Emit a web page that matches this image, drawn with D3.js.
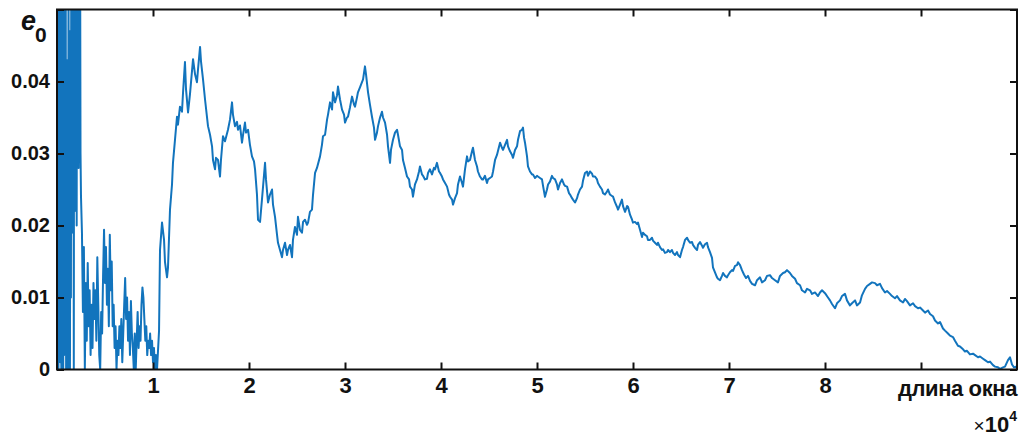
<!DOCTYPE html>
<html>
<head>
<meta charset="utf-8">
<script src="https://cdnjs.cloudflare.com/ajax/libs/d3/7.8.5/d3.min.js"></script>
<style>
  body { margin: 0; background: #fff; }
  text { font-family: "Liberation Sans", Arial, sans-serif; font-weight: bold; fill: #111; }
</style>
</head>
<body>
<script>
// window length (samples) vs e0
// burst at the start: the line jumps between 0 and far above the axis
var burstPts = [
  [0,0.07],[50,0.002],[100,0.08],[150,0],[200,0.065],[250,0.004],[300,0.09],[350,0.001],
  [400,0.075],[450,0],[500,0.06],[550,0.003],[600,0.085],[650,0],[700,0.07],[750,0.002],
  [800,0.08],[850,0.006],[900,0.065],[950,0],[1000,0.043],[1050,0.012],[1100,0.038],[1150,0],
  [1200,0.055],[1250,0.008],[1300,0.03],[1350,0],[1400,0.047],[1450,0.01],[1500,0.08],[1550,0.025],
  [1600,0.09],[1650,0.019],[1700,0.07],[1750,0],[1800,0.085],[1850,0.022],[1900,0.075],[1950,0.03],
  [2000,0.09],[2050,0.02],[2100,0.08],[2150,0.035],[2200,0.07],[2250,0.028],[2300,0.06],[2350,0.038],
  [2400,0.065],[2450,0.03]
];

// noisy low part up to ~1.04e4
var noisePts = [
  [2500,0.024],[2600,0.019],[2700,0.008],[2800,0.017],[2900,0],[3000,0.012],[3100,0.004],[3200,0.0148],
  [3300,0.006],[3400,0.011],[3500,0.002],[3600,0.009],[3700,0.003],[3800,0.012],[3900,0.007],[4000,0.011],
  [4100,0.004],[4200,0.0156],[4300,0.009],[4400,0.002],[4500,0],[4600,0.008],[4700,0.005],[4800,0.013],
  [4900,0.0194],[5000,0.012],[5100,0.017],[5200,0.009],[5300,0.014],[5400,0.006],[5500,0.0187],[5600,0.011],
  [5700,0.015],[5800,0.006],[5900,0.009],[6000,0.003],[6100,0.006],[6200,0],[6300,0.004],[6400,0.002],
  [6500,0.006],[6600,0.003],[6700,0.007],[6800,0.001],[6900,0.005],[7000,0.009],[7100,0.0127],[7200,0.007],
  [7300,0.01],[7400,0.004],[7500,0.008],[7600,0.002],[7700,0.0095],[7800,0.005],[7900,0.003],[8000,0],
  [8100,0.005],[8200,0],[8300,0.004],[8400,0.008],[8500,0.003],[8600,0.006],[8700,0.004],[8800,0.009],
  [8900,0.0114],[9000,0.01],[9100,0.007],[9200,0.004],[9300,0.006],[9400,0.002],[9500,0.004],[9600,0.003],
  [9700,0.005],[9800,0.002],[9900,0.004],[10000,0.001],[10100,0.003],[10200,0],[10300,0.002]
];

// main curve after the jump at ~1.05e4
var trendPts = [
  [10420,0],[10630,0.0054],[10730,0.0166],[10940,0.0204],[11150,0.018],[11250,0.0149],[11460,0.0128],[11560,0.0141],
  [11770,0.0222],[11980,0.0257],[12080,0.0287],[12290,0.0319],[12500,0.0351],[12600,0.034],[12810,0.0365],[13020,0.0358],
  [13130,0.0385],[13330,0.0427],[13440,0.0389],[13650,0.0357],[13850,0.0382],[14170,0.0431],[14380,0.041],[14580,0.0399],
  [14690,0.0417],[14900,0.0448],[15000,0.0428],[15210,0.0403],[15420,0.0375],[15730,0.0338],[15940,0.0326],[16150,0.031],
  [16250,0.0291],[16460,0.0278],[16560,0.0294],[16770,0.0291],[16980,0.0268],[17080,0.0291],[17290,0.0324],[17500,0.0317],
  [17810,0.0333],[18020,0.0347],[18230,0.0371],[18330,0.0354],[18540,0.0338],[18750,0.0344],[18850,0.0333],[19060,0.0339],
  [19270,0.0315],[19380,0.0326],[19580,0.0343],[19690,0.0329],[19900,0.0333],[20100,0.0312],[20310,0.0296],[20520,0.0289],
  [20630,0.0278],[20830,0.0243],[20940,0.0208],[21150,0.0205],[21350,0.0236],[21670,0.0287],[21770,0.0264],[21980,0.0232],
  [22190,0.0243],[22400,0.025],[22500,0.0229],[22710,0.0212],[22920,0.0187],[23020,0.0176],[23230,0.0166],[23440,0.0156],
  [23540,0.0166],[23750,0.0176],[23960,0.0159],[24060,0.0166],[24270,0.0173],[24480,0.0156],[24580,0.018],[24790,0.0198],
  [25000,0.0187],[25100,0.0212],[25310,0.0194],[25520,0.019],[25630,0.0205],[25830,0.0208],[26040,0.0201],[26150,0.0204],
  [26350,0.0219],[26560,0.0222],[26670,0.0243],[26880,0.0273],[27080,0.028],[27400,0.0296],[27600,0.0312],[27710,0.0324],
  [27920,0.0326],[28130,0.0347],[28230,0.0354],[28440,0.0371],[28650,0.0361],[28750,0.0385],[28960,0.0371],[29170,0.0381],
  [29270,0.0393],[29480,0.0375],[29690,0.0361],[29900,0.0354],[30000,0.0343],[30210,0.035],[30310,0.0351],[30520,0.0364],
  [30730,0.0379],[30940,0.0368],[31040,0.0365],[31250,0.0378],[31350,0.0385],[31560,0.0392],[31770,0.0399],[31880,0.0403],
  [32080,0.0421],[32190,0.041],[32400,0.0385],[32600,0.0368],[32810,0.0351],[33020,0.0336],[33130,0.0319],[33330,0.0329],
  [33440,0.0338],[33650,0.035],[33850,0.0358],[33960,0.035],[34170,0.0343],[34380,0.0326],[34480,0.031],[34690,0.0287],
  [34790,0.0305],[35000,0.0319],[35210,0.0329],[35420,0.0333],[35520,0.0326],[35730,0.031],[35940,0.0305],[36040,0.0291],
  [36250,0.028],[36460,0.0268],[36670,0.0264],[36770,0.0254],[36980,0.025],[37080,0.024],[37290,0.0257],[37500,0.0264],
  [37710,0.0275],[37810,0.0282],[38020,0.0271],[38130,0.0269],[38330,0.0264],[38540,0.0265],[38650,0.0273],[38850,0.0278],
  [39060,0.0271],[39270,0.028],[39380,0.0278],[39580,0.0287],[39790,0.0275],[39900,0.0273],[40100,0.0268],[40210,0.0264],
  [40420,0.0259],[40630,0.0254],[40830,0.0243],[40940,0.024],[41150,0.0236],[41250,0.0229],[41460,0.0238],[41670,0.0245],
  [41770,0.0257],[41980,0.0268],[42190,0.0259],[42290,0.0254],[42500,0.0278],[42710,0.0296],[42810,0.0289],[43020,0.0291],
  [43230,0.0303],[43330,0.0308],[43540,0.0291],[43750,0.0282],[43850,0.0275],[44060,0.0268],[44270,0.0264],[44380,0.0264],
  [44580,0.0269],[44790,0.0259],[44900,0.0264],[45100,0.0266],[45310,0.0268],[45420,0.0275],[45630,0.0291],[45830,0.0298],
  [46150,0.0315],[46350,0.0308],[46460,0.0305],[46670,0.0312],[46880,0.0319],[46980,0.031],[47190,0.0303],[47400,0.0298],
  [47500,0.0294],[47710,0.0305],[47920,0.031],[48020,0.0319],[48230,0.0331],[48440,0.0333],[48540,0.0336],[48650,0.0322],
  [48750,0.0315],[48960,0.0296],[49060,0.0282],[49270,0.0275],[49480,0.0271],[49580,0.0271],[49790,0.0266],[50000,0.0269],
  [50100,0.0268],[50310,0.0266],[50520,0.0264],[50630,0.0255],[50830,0.024],[51040,0.025],[51150,0.0257],[51350,0.0261],
  [51560,0.0269],[51670,0.0266],[51880,0.0264],[52080,0.0257],[52190,0.025],[52400,0.0259],[52600,0.0264],[52810,0.0257],
  [52920,0.0255],[53130,0.0254],[53330,0.0245],[53440,0.0243],[53650,0.0238],[53750,0.0236],[53960,0.0232],[54170,0.0238],
  [54270,0.0243],[54480,0.025],[54690,0.0254],[54790,0.0262],[55000,0.0273],[55210,0.0275],[55310,0.0269],[55520,0.0275],
  [55730,0.0272],[55830,0.0268],[56040,0.0268],[56250,0.0264],[56350,0.0259],[56560,0.0254],[56770,0.025],[56880,0.0245],
  [57080,0.0243],[57290,0.0247],[57400,0.025],[57600,0.0243],[57810,0.0241],[57920,0.024],[58130,0.0232],[58330,0.0226],
  [58440,0.0222],[58650,0.0229],[58850,0.0236],[58960,0.0227],[59170,0.0219],[59380,0.0227],[59480,0.0226],[59690,0.0215],
  [59900,0.0208],[60000,0.0204],[60210,0.0205],[60420,0.0202],[60520,0.0204],[60730,0.0194],[60940,0.0184],[61040,0.019],
  [61250,0.0187],[61460,0.0185],[61560,0.018],[61770,0.018],[61980,0.0183],[62080,0.0179],[62290,0.0176],[62500,0.0173],
  [62600,0.0176],[62810,0.017],[63020,0.0166],[63130,0.0167],[63330,0.0162],[63540,0.0163],[63650,0.0166],[63850,0.0163],
  [64060,0.0166],[64170,0.0162],[64380,0.0159],[64580,0.0163],[64690,0.0159],[64900,0.0156],[65100,0.0166],[65210,0.017],
  [65420,0.018],[65630,0.0183],[65730,0.018],[65940,0.0176],[66150,0.0177],[66250,0.0173],[66460,0.0169],[66670,0.0166],
  [66770,0.0173],[66980,0.0177],[67190,0.0172],[67290,0.0169],[67500,0.0174],[67710,0.0176],[67810,0.017],[68020,0.0163],
  [68230,0.0155],[68330,0.0142],[68540,0.0135],[68750,0.0128],[68850,0.0126],[69060,0.0124],[69270,0.013],[69380,0.0134],
  [69580,0.013],[69790,0.0128],[69900,0.0131],[70100,0.0135],[70310,0.0138],[70420,0.0137],[70630,0.0144],[70830,0.0145],
  [70940,0.0149],[71150,0.0145],[71350,0.0138],[71560,0.0132],[71770,0.0127],[71980,0.013],[72190,0.0123],[72400,0.0119],
  [72710,0.0117],[72920,0.0124],[73230,0.0128],[73440,0.0121],[73750,0.0124],[73960,0.013],[74270,0.0131],[74480,0.0127],
  [74790,0.0124],[75100,0.0121],[75310,0.013],[75630,0.0134],[75830,0.0135],[76040,0.0138],[76350,0.0134],[76560,0.013],
  [76880,0.0126],[77080,0.012],[77400,0.0117],[77600,0.011],[77920,0.0107],[78130,0.0112],[78440,0.011],[78650,0.0105],
  [78960,0.0107],[79270,0.0102],[79480,0.0107],[79690,0.011],[80000,0.0106],[80310,0.01],[80520,0.0096],[80730,0.0091],
  [81040,0.0085],[81250,0.0092],[81560,0.0096],[81770,0.0102],[82080,0.0105],[82290,0.0096],[82600,0.0089],[82810,0.0092],
  [83130,0.0096],[83330,0.0089],[83650,0.0093],[83850,0.0103],[84170,0.0112],[84380,0.0116],[84690,0.0119],[84900,0.0121],
  [85210,0.012],[85420,0.0117],[85730,0.0119],[85940,0.0113],[86250,0.0107],[86460,0.0109],[86770,0.0105],[86980,0.0102],
  [87290,0.0099],[87500,0.0102],[87810,0.0096],[88130,0.0093],[88330,0.0098],[88540,0.0095],[88850,0.0089],[89170,0.0092],
  [89380,0.0088],[89690,0.0085],[89900,0.0086],[90210,0.0082],[90420,0.0079],[90730,0.0082],[90940,0.0077],[91250,0.0074],
  [91460,0.0068],[91770,0.0064],[91980,0.0066],[92290,0.0057],[92500,0.0054],[92810,0.005],[93020,0.0047],[93330,0.0045],
  [93540,0.004],[93850,0.0033],[94060,0.0032],[94380,0.0028],[94580,0.0025],[94790,0.0026],[95100,0.0021],[95420,0.0022],
  [95630,0.002],[95940,0.0017],[96150,0.0018],[96460,0.0015],[96670,0.0013],[96980,0.001],[97190,0.0011],[97500,0.0006],
  [97710,0.0004],[98020,0.0003],[98230,0.0001],[98540,0.0003],[98750,0.0004],[99060,0.0013],[99270,0.0017],[99480,0.0007],
  [99690,0.0003],[99900,0.0004],[100000,0.0001]
];

var xTicks = [10000, 20000, 30000, 40000, 50000, 60000, 70000, 80000, 90000];
var xTickLabels = ["1", "2", "3", "4", "5", "6", "7", "8", ""];
var yTicks = [0, 0.01, 0.02, 0.03, 0.04, 0.05];
var yTickLabels = ["0", "0.01", "0.02", "0.03", "0.04", ""];

var w = 1023, h = 436;
var padL = 57, padR = 1017, padT = 9.5, padB = 369.5;   // box edges in pixels

var svg = d3.select("body").append("svg")
    .attr("width", w)
    .attr("height", h);

var x = d3.scaleLinear().domain([0, 100000]).range([padL, padR]);
var y = d3.scaleLinear().domain([0, 0.05]).range([padB, padT]);

svg.append("clipPath").attr("id", "plotClip")
  .append("rect")
    .attr("x", padL).attr("y", padT)
    .attr("width", padR - padL).attr("height", padB - padT);

var line = d3.line()
    .x(function(d){ return x(d[0]); })
    .y(function(d){ return y(d[1]); });

var allPts = burstPts.concat(noisePts, trendPts);

svg.append("path")
    .datum(allPts)
    .attr("clip-path", "url(#plotClip)")
    .attr("d", line)
    .attr("fill", "none")
    .attr("stroke", "#1274bd")
    .attr("stroke-width", 2)
    .attr("stroke-linejoin", "round");

// axes, ticks pointing into the box (matlab style)
function styleAxis(g){
    g.selectAll(".domain").remove();
    g.selectAll(".tick line").attr("stroke", "#111").attr("stroke-width", 2);
    g.selectAll(".tick text").attr("fill", "#111").style("font-weight", "bold");
}

svg.append("g")
    .attr("transform", "translate(0," + padB + ")")
    .call(d3.axisBottom(x).tickValues(xTicks).tickSizeInner(-7).tickSizeOuter(0).tickPadding(8)
        .tickFormat(function(d, i){ return xTickLabels[i]; }))
    .call(styleAxis)
    .selectAll(".tick text").style("font-size", "22px");

svg.append("g")
    .attr("transform", "translate(0," + padT + ")")
    .call(d3.axisTop(x).tickValues(xTicks).tickSizeInner(-7).tickSizeOuter(0).tickFormat(""))
    .call(styleAxis);

svg.append("g")
    .attr("transform", "translate(" + padL + ",0)")
    .call(d3.axisLeft(y).tickValues(yTicks).tickSizeInner(-7).tickSizeOuter(0).tickPadding(7)
        .tickFormat(function(d, i){ return yTickLabels[i]; }))
    .call(styleAxis)
    .selectAll(".tick text").style("font-size", "20px");

svg.append("g")
    .attr("transform", "translate(" + padR + ",0)")
    .call(d3.axisRight(y).tickValues(yTicks).tickSizeInner(-7).tickSizeOuter(0).tickFormat(""))
    .call(styleAxis);

svg.append("rect")  // box
    .attr("x", padL).attr("y", padT)
    .attr("width", padR - padL).attr("height", padB - padT)
    .attr("fill", "none")
    .attr("stroke", "#111")
    .attr("stroke-width", 2);

// labels
var yLab = svg.append("text").attr("x", 21).attr("y", 30);
yLab.append("tspan").style("font-size", "27px").style("font-style", "italic").text("e");
yLab.append("tspan").attr("dy", 12).attr("dx", -1).style("font-size", "21px").text("0");

svg.append("text")
    .attr("x", padR).attr("y", 396)
    .attr("text-anchor", "end")
    .style("font-size", "22px")
    .style("letter-spacing", "-0.4px")
    .text("длина окна");

var mult = svg.append("text")
    .attr("x", padR).attr("y", 432)
    .attr("text-anchor", "end");
mult.append("tspan").style("font-size", "19px").style("font-weight", "normal").text("\u00d7");
mult.append("tspan").style("font-size", "22px").text("10");
mult.append("tspan").attr("dy", -11).style("font-size", "14px").text("4");
</script>
</body>
</html>
